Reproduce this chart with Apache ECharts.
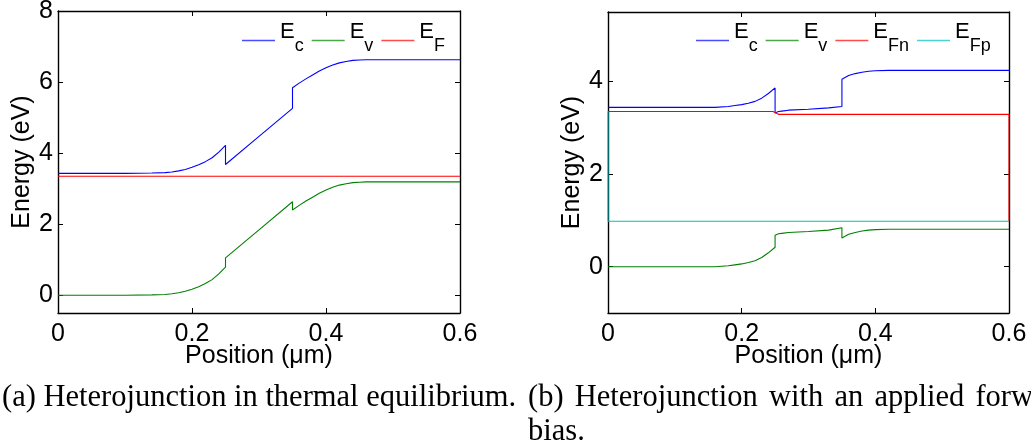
<!DOCTYPE html>
<html>
<head>
<meta charset="utf-8">
<script src="https://cdn.jsdelivr.net/npm/echarts@6/dist/echarts.min.js"></script>
<style>
  html, body { margin: 0; padding: 0; background: #fff; }
  #chart { width: 1031px; height: 448px; }
</style>
</head>
<body>
<div id="chart"></div>
<script>
// (a) thermal equilibrium: positions (µm) and band edges (eV)
const posA = [0, 0.10, 0.14, 0.16, 0.17, 0.18, 0.19, 0.20, 0.21, 0.22, 0.23, 0.24, 0.25,
              0.25, 0.30, 0.35,
              0.35, 0.36, 0.37, 0.38, 0.39, 0.40, 0.41, 0.42, 0.43, 0.44, 0.45, 0.46, 0.60];
const ecA = [3.43, 3.43, 3.44, 3.45, 3.47, 3.50, 3.54, 3.60, 3.67, 3.76, 3.87, 4.03, 4.22,
             3.68, 4.47, 5.26,
             5.84, 5.97, 6.09, 6.20, 6.31, 6.40, 6.48, 6.54, 6.58, 6.61, 6.62, 6.63, 6.63];
const evA = [0.00, 0.00, 0.01, 0.02, 0.04, 0.07, 0.11, 0.17, 0.24, 0.33, 0.44, 0.60, 0.79,
             1.05, 1.84, 2.63,
             2.40, 2.53, 2.65, 2.76, 2.87, 2.96, 3.04, 3.10, 3.14, 3.17, 3.18, 3.19, 3.19];
const posFA = [0, 0.60];
const efA = [3.35, 3.35];

// (b) forward bias: positions (µm) and band edges / quasi-Fermi levels (eV)
const posB = [0, 0.10, 0.16, 0.18, 0.19, 0.20, 0.21, 0.22, 0.23, 0.24, 0.25,
              0.25, 0.255, 0.26, 0.27, 0.30, 0.33, 0.35,
              0.35, 0.36, 0.37, 0.38, 0.39, 0.40, 0.42, 0.60];
const ecB = [3.44, 3.44, 3.44, 3.46, 3.48, 3.50, 3.53, 3.57, 3.64, 3.74, 3.86,
             3.32, 3.35, 3.36, 3.38, 3.40, 3.43, 3.46,
             4.05, 4.13, 4.17, 4.20, 4.22, 4.23, 4.24, 4.24];
const evB = [0.00, 0.00, 0.00, 0.02, 0.04, 0.06, 0.09, 0.13, 0.20, 0.30, 0.42,
             0.68, 0.71, 0.72, 0.74, 0.76, 0.79, 0.84,
             0.62, 0.70, 0.74, 0.77, 0.79, 0.80, 0.81, 0.81];
const posFn = [0, 0.247, 0.255, 0.60, 0.60];
const efnB = [3.35, 3.35, 3.29, 3.29, 0.98];
const posFp = [0, 0, 0.60];
const efpB = [3.35, 0.98, 0.98];

// axis ticks
const xTicks = [0, 0.2, 0.4, 0.6];
const yTicksA = [0, 2, 4, 6, 8];
const yTicksB = [0, 2, 4];

// legend labels: main letter and subscript
const legendText = {
  'Ec (a)': ['E', 'c'], 'Ev (a)': ['E', 'v'], 'EF (a)': ['E', 'F'],
  'Ec (b)': ['E', 'c'], 'Ev (b)': ['E', 'v'], 'EFn (b)': ['E', 'Fn'], 'EFp (b)': ['E', 'Fp']
};

const captionA = '(a) Heterojunction in thermal equilibrium.';
const captionB1 = ['(b)', 'Heterojunction', 'with', 'an', 'applied', 'forward'];
const captionB2 = 'bias.';

const pairs = (xs, ys) => xs.map((x, i) => [x, ys[i]]);

const SANS = '"Liberation Sans", Arial, Helvetica, sans-serif';
const SERIF_FONT = '30.5px "Liberation Serif", "Times New Roman", serif';
const BLUE = '#0000ff', GREEN = '#008000', RED = '#ff0000', CYAN = '#00bfbf';

function lineSeries(name, data, color, xi, yi) {
  return {
    name, type: 'line', data, xAxisIndex: xi, yAxisIndex: yi,
    showSymbol: false, symbol: 'none', animation: false,
    lineStyle: { color, width: 1.1 }, itemStyle: { color },
    emphasis: { disabled: true }
  };
}

const frameLine = { show: true, onZero: false, lineStyle: { color: '#000', width: 1.4 } };

function xAxes(gridIndex) {
  return [{
    type: 'value', gridIndex, position: 'bottom', min: 0, max: 0.6,
    axisLine: frameLine,
    axisTick: { show: true, inside: true, length: 5, customValues: xTicks, lineStyle: { color: '#000' } },
    axisLabel: { customValues: xTicks, color: '#000', fontSize: 25, fontFamily: SANS, margin: 9,
      formatter: v => String(+v.toFixed(1)) },
    splitLine: { show: false },
    name: 'Position (μm)', nameLocation: 'middle', nameGap: 31, nameMoveOverlap: false,
    nameTextStyle: { color: '#000', fontSize: 25, fontFamily: SANS }
  }, {
    type: 'value', gridIndex, position: 'top', min: 0, max: 0.6,
    axisLine: frameLine,
    axisTick: { show: true, inside: true, length: 5, customValues: xTicks, lineStyle: { color: '#000' } },
    axisLabel: { show: false }, splitLine: { show: false }
  }];
}

function yAxes(gridIndex, min, max, ticks) {
  return [{
    type: 'value', gridIndex, position: 'left', min, max,
    axisLine: frameLine,
    axisTick: { show: true, inside: true, length: 5, customValues: ticks, lineStyle: { color: '#000' } },
    axisLabel: { customValues: ticks, color: '#000', fontSize: 25, fontFamily: SANS, margin: 5 },
    splitLine: { show: false },
    name: 'Energy (eV)', nameLocation: 'middle', nameGap: 23, nameMoveOverlap: false,
    nameTextStyle: { color: '#000', fontSize: 25, fontFamily: SANS }
  }, {
    type: 'value', gridIndex, position: 'right', min, max,
    axisLine: frameLine,
    axisTick: { show: true, inside: true, length: 5, customValues: ticks, lineStyle: { color: '#000' } },
    axisLabel: { show: false }, splitLine: { show: false }
  }];
}

function legend(names, left) {
  return {
    data: names.map(name => ({ name, icon: 'rect' })), left, top: 21, padding: 0,
    orient: 'horizontal', itemWidth: 33, itemHeight: 1.4, itemGap: 8,
    selectedMode: false,
    itemStyle: { opacity: 0.7, borderWidth: 0 },
    formatter: n => '{e|' + legendText[n][0] + '}{s|' + legendText[n][1] + '}',
    textStyle: {
      color: '#000', fontFamily: SANS,
      rich: {
        e: { fontSize: 22, fontFamily: SANS, color: '#000', lineHeight: 20, verticalAlign: 'top' },
        s: { fontSize: 18, fontFamily: SANS, color: '#000', lineHeight: 39, padding: [16, 0, 0, 0], verticalAlign: 'top' }
      }
    }
  };
}

// captions: (a) on one line, (b) justified over its column then wrapped
const measureCtx = document.createElement('canvas').getContext('2d');
measureCtx.font = SERIF_FONT;
const colLeftB = 528;
const colWidthB = 544;
const wordWidths = captionB1.map(w => measureCtx.measureText(w).width);
const gap = (colWidthB - wordWidths.reduce((a, b) => a + b, 0)) / (captionB1.length - 1);
const captionGraphics = [{
  type: 'text', x: 2, y: 398, silent: true,
  style: { text: captionA, font: SERIF_FONT, fill: '#000', verticalAlign: 'middle' }
}];
let cx = colLeftB;
captionB1.forEach((w, i) => {
  captionGraphics.push({
    type: 'text', x: cx, y: 398, silent: true,
    style: { text: w, font: SERIF_FONT, fill: '#000', verticalAlign: 'middle' }
  });
  cx += wordWidths[i] + gap;
});
captionGraphics.push({
  type: 'text', x: colLeftB, y: 432, silent: true,
  style: { text: captionB2, font: SERIF_FONT, fill: '#000', verticalAlign: 'middle' }
});

const chart = echarts.init(document.getElementById('chart'), null, { renderer: 'canvas' });
chart.setOption({
  animation: false,
  backgroundColor: '#fff',
  grid: [
    { left: 58, top: 11, width: 402, height: 302, outerBoundsMode: 'none' },
    { left: 608, top: 12, width: 401, height: 301, outerBoundsMode: 'none' }
  ],
  xAxis: [...xAxes(0), ...xAxes(1)],
  yAxis: [...yAxes(0, -0.5, 8, yTicksA), ...yAxes(1, -1, 5.5, yTicksB)],
  legend: [
    legend(['Ec (a)', 'Ev (a)', 'EF (a)'], 242),
    legend(['Ec (b)', 'Ev (b)', 'EFn (b)', 'EFp (b)'], 696)
  ],
  series: [
    lineSeries('EF (a)', pairs(posFA, efA), RED, 0, 0),
    lineSeries('Ec (a)', pairs(posA, ecA), BLUE, 0, 0),
    lineSeries('Ev (a)', pairs(posA, evA), GREEN, 0, 0),
    lineSeries('Ec (b)', pairs(posB, ecB), BLUE, 2, 2),
    lineSeries('Ev (b)', pairs(posB, evB), GREEN, 2, 2),
    lineSeries('EFn (b)', pairs(posFn, efnB), RED, 2, 2),
    lineSeries('EFp (b)', pairs(posFp, efpB), CYAN, 2, 2)
  ],
  graphic: captionGraphics
});
</script>
</body>
</html>
